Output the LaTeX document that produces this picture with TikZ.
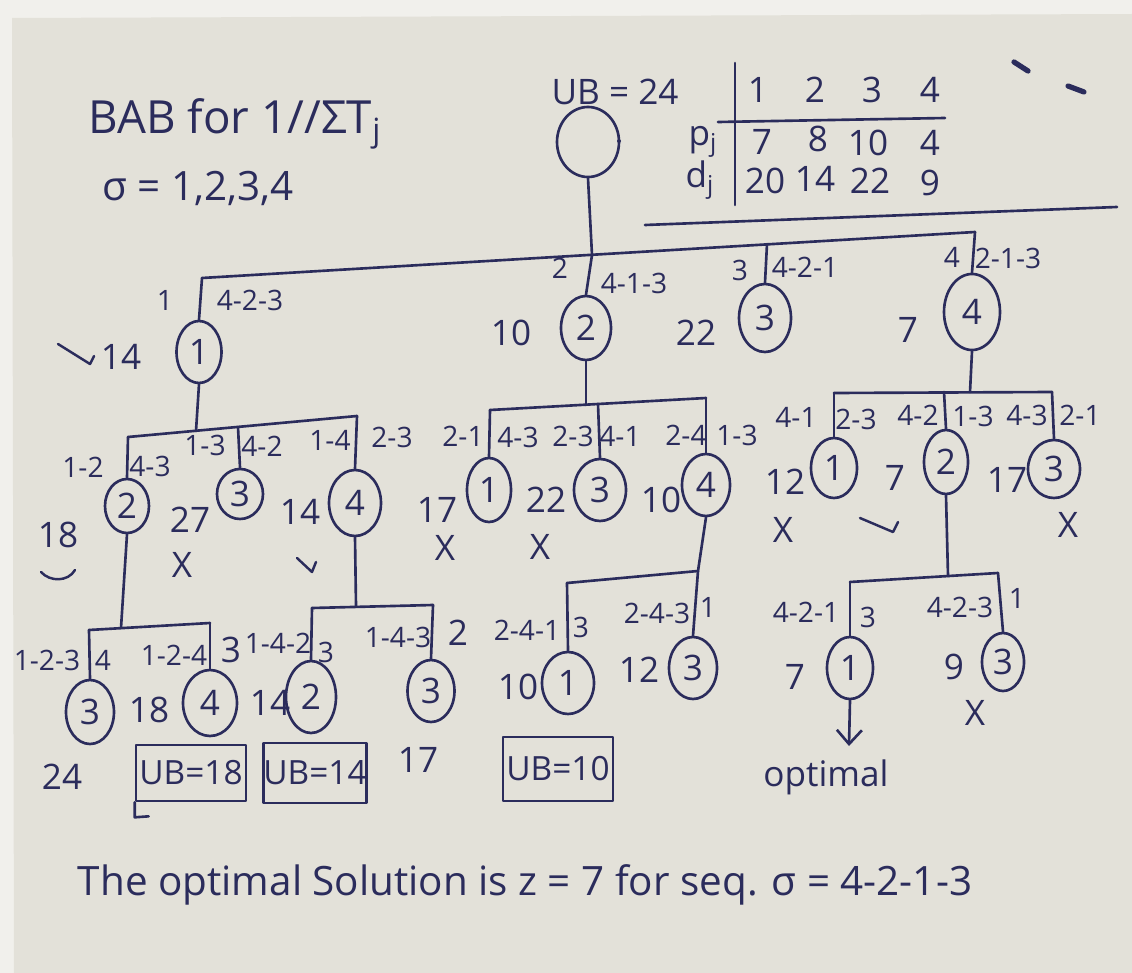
\documentclass[tikz,border=0pt]{standalone}
\usepackage{fontspec}
\setmainfont{Open Sans}
\usetikzlibrary{shapes.geometric,arrows.meta}
\definecolor{ink}{HTML}{2B2C5C}
\definecolor{paper}{HTML}{E3E1D9}
\definecolor{rim}{HTML}{F1F0EC}
\definecolor{pin}{HTML}{6A6862}
\begin{document}
\begin{tikzpicture}[x=0.02cm,y=-0.02cm,
  color=ink, line width=1.5pt, line cap=round, line join=round,
  nd/.style 2 args={ellipse, draw=ink, text=ink, inner sep=0pt,
     minimum width=#1*0.02cm, minimum height=#2*0.02cm,
     font=\fontsize{20}{24}\selectfont},
  lab/.style={text=ink, inner sep=0pt, font=\fontsize{16}{19}\selectfont},
  val/.style={text=ink, inner sep=0pt, font=\fontsize{20}{24}\selectfont},
  big/.style={text=ink, inner sep=0pt, font=\fontsize{23}{27}\selectfont},
  ttl/.style={text=ink, inner sep=0pt, font=\fontsize{26}{30}\selectfont},
  ubbox/.style 2 args={draw=ink, text=ink, inner sep=0pt,
     minimum width=#1*0.02cm, minimum height=#2*0.02cm,
     font=\fontsize{19}{22}\selectfont},
  tickmark/.style={line width=1.4pt},
  optarrow/.style={-{Straight Barb[length=0.28cm,width=0.5cm]}}
]
% background
\useasboundingbox (0,0) rectangle (1132,973);
\fill[rim] (0,0) rectangle (1132,973);
\fill[paper] (12,18) -- (1132,14) -- (1132,973) -- (14,973) -- cycle;
% pins
\draw[pin, line width=3pt] (1014,62) -- (1028,71);
\draw[pin, line width=3pt] (1068,86) -- (1084,92);

% title
\node[ttl] (title) at (235,124) {BAB for 1//ΣT\textsubscript{j}};
\node[big] (sigma) at (198,188) {σ = 1,2,3,4};

% table
\node[val] (ub) at (615,92) {UB = 24};
\coordinate (tv1) at (735,63); \coordinate (tv2) at (735,205);
\coordinate (th1) at (718,122); \coordinate (th2) at (945,118);
\coordinate (tl1) at (645,225); \coordinate (tl2) at (1117,207);
\draw (tv1) -- (tv2); \draw (th1) -- (th2); \draw (tl1) -- (tl2);
\node[val] (h1) at (758,90) {1};
\node[val] (h2) at (815,90) {2};
\node[val] (h3) at (872,90) {3};
\node[val] (h4) at (930,90) {4};
\node[val] (pj) at (703,142) {p\textsubscript{j}};
\node[val] (dj) at (700,180) {d\textsubscript{j}};
\node[val] (p1) at (762,142) {7};
\node[val] (p2) at (818,139) {8};
\node[val] (p3) at (868,143) {10};
\node[val] (p4) at (930,143) {4};
\node[val] (d1) at (765,181) {20};
\node[val] (d2) at (815,179) {14};
\node[val] (d3) at (870,181) {22};
\node[val] (d4) at (930,183) {9};

% root
\node[nd={62}{70}] (R) at (588,142) {};
\fill[ink] (619,141) circle (2);

% level 1
\node[nd={45}{62}] (N1) at (199,352) {1};
\node[nd={50}{64}] (N2) at (586,328) {2};
\node[nd={52}{68}] (N3) at (765,318) {3};
\node[nd={56}{76}] (N4) at (972,312) {4};
\coordinate (b0l) at (202,278); \coordinate (b0a) at (592,255);
\coordinate (b0b) at (767,244); \coordinate (b0r) at (975,232);
\draw (R.south) -- (b0a);
\draw (b0l) -- (b0r);
\draw (b0l) -- (N1.north);
\draw (b0a) -- (N2.north);
\draw (b0b) -- (N3.north);
\draw (b0r) -- (N4.north);
\node[lab] at (165,300) {1};
\node[lab] at (250,300) {4-2-3};
\node[val] at (121,357) {14};
\draw[tickmark] (58,344) -- (90,364) -- (94,356);
\node[lab] at (560,268) {2};
\node[lab] at (634,283) {4-1-3};
\node[val] at (511,333) {10};
\node[lab] at (740,270) {3};
\node[lab] at (805,267) {4-2-1};
\node[val] at (696,333) {22};
\node[lab] at (952,257) {4};
\node[lab] at (1008,258) {2-1-3};
\node[val] at (908,330) {7};

% level 2 under N1
\node[nd={44}{54}] (A2) at (127,506) {2};
\node[nd={46}{50}] (A3) at (240,494) {3};
\node[nd={52}{66}] (A4) at (355,503) {4};
\coordinate (c1l) at (128,437); \coordinate (c1j) at (196,431);
\coordinate (c1m) at (238,427); \coordinate (c1r) at (357,416);
\draw (N1.south) -- (c1j);
\draw (c1l) -- (c1r);
\draw (c1l) -- (A2.north);
\draw (c1m) -- (A3.north);
\draw (c1r) -- (A4.north);
\node[lab] at (83,467) {1-2};
\node[lab] at (150,466) {4-3};
\node[lab] at (205,445) {1-3};
\node[lab] at (262,446) {4-2};
\node[lab] at (330,440) {1-4};
\node[lab] at (392,437) {2-3};
\node[val] at (58,535) {18};
\node[val] at (190,520) {27};
\node[val] at (300,512) {14};
\node[val] at (182,565) {X};
\draw[tickmark] (41,572) .. controls (50,582) and (68,582) .. (75,570);
\draw[tickmark] (297,558) -- (312,572) -- (316,562);

% level 2 under N2
\node[nd={44}{64}] (B1) at (489,490) {1};
\node[nd={52}{62}] (B3) at (600,490) {3};
\node[nd={48}{62}] (B4) at (706,485) {4};
\coordinate (c2l) at (490,410); \coordinate (c2j) at (586,405);
\coordinate (c2m) at (598,404); \coordinate (c2r) at (706,398);
\draw (N2.south) -- (c2j);
\draw (c2l) -- (c2r);
\draw (c2l) -- (B1.north);
\draw (c2m) -- (B3.north);
\draw (c2r) -- (B4.north);
\node[lab] at (463,436) {2-1};
\node[lab] at (518,437) {4-3};
\node[lab] at (573,436) {2-3};
\node[lab] at (620,436) {4-1};
\node[lab] at (686,435) {2-4};
\node[lab] at (737,435) {1-3};
\node[val] at (437,510) {17};
\node[val] at (445,548) {X};
\node[val] at (546,500) {22};
\node[val] at (540,547) {X};
\node[val] at (661,500) {10};

% level 2 under N4
\node[nd={46}{60}] (C1) at (834,468) {1};
\node[nd={44}{64}] (C2) at (946,462) {2};
\node[nd={52}{58}] (C3) at (1054,469) {3};
\coordinate (c3l) at (834,393); \coordinate (c3j) at (970,392);
\coordinate (c3m) at (944,392); \coordinate (c3r) at (1052,392);
\draw (N4.south) -- (c3j);
\draw (c3l) -- (c3r);
\draw (c3l) -- (C1.north);
\draw (c3m) -- (C2.north);
\draw (c3r) -- (C3.north);
\node[lab] at (796,417) {4-1};
\node[lab] at (856,419) {2-3};
\node[lab] at (918,415) {4-2};
\node[lab] at (973,416) {1-3};
\node[lab] at (1027,415) {4-3};
\node[lab] at (1080,415) {2-1};
\node[val] at (785,482) {12};
\node[val] at (783,530) {X};
\node[val] at (895,478) {7};
\draw[tickmark] (860,518) -- (893,532) -- (898,522);
\node[val] at (1007,480) {17};
\node[val] at (1068,525) {X};

% level 3 under A2
\node[nd={48}{64}] (D3) at (90,712) {3};
\node[nd={54}{66}] (D4) at (210,703) {4};
\coordinate (d1l) at (89,630); \coordinate (d1j) at (121,628);
\coordinate (d1r) at (210,623);
\draw (A2.south) -- (d1j);
\draw (d1l) -- (d1r);
\draw (d1l) -- (D3.north);
\draw (d1r) -- (D4.north);
\node[lab] at (47,660) {1-2-3};
\node[lab] at (103,660) {4};
\node[lab] at (174,655) {1-2-4};
\node[val] at (231,650) {3};
\node[val] at (62,777) {24};
\node[val] at (149,710) {18};
\node[ubbox={110}{56}] (ub18) at (191,773) {UB=18};
\draw (ub18.south west) -- ++(0,15) -- ++(14,-1);

% level 3 under A4
\node[nd={50}{72}] (E2) at (311,697) {2};
\node[nd={47}{62}] (E3) at (431,691) {3};
\coordinate (e1l) at (312,608); \coordinate (e1j) at (356,606);
\coordinate (e1r) at (433,605);
\draw (A4.south) -- (e1j);
\draw (e1l) -- (e1r);
\draw (e1l) -- (E2.north);
\draw (e1r) -- (E3.north);
\node[lab] at (278,643) {1-4-2};
\node[lab] at (326,652) {3};
\node[lab] at (398,637) {1-4-3};
\node[val] at (458,633) {2};
\node[val] at (270,703) {14};
\node[val] at (418,760) {17};
\node[ubbox={98}{60}] (ub14) at (315,773) {UB=14};

% level 3 under B4
\node[nd={52}{62}] (F1) at (568,683) {1};
\node[nd={48}{62}] (F3) at (693,668) {3};
\coordinate (f1l) at (567,583); \coordinate (f1r) at (698,571);
\draw (B4.south) -- (f1r);
\draw (f1l) -- (f1r);
\draw (f1l) -- (F1.north);
\draw (f1r) -- (F3.north);
\node[lab] at (527,630) {2-4-1};
\node[lab] at (581,627) {3};
\node[lab] at (657,613) {2-4-3};
\node[lab] at (708,607) {1};
\node[val] at (518,687) {10};
\node[val] at (639,670) {12};
\node[ubbox={110}{64}] (ub10) at (558,769) {UB=10};

% level 3 under C2
\node[nd={46}{62}] (G1) at (850,668) {1};
\node[nd={42}{58}] (G3) at (1003,662) {3};
\coordinate (g1l) at (850,582); \coordinate (g1j) at (948,576);
\coordinate (g1r) at (998,573);
\draw (C2.south) -- (g1j);
\draw (g1l) -- (g1r);
\draw (g1l) -- (G1.north);
\draw (g1r) -- (G3.north);
\node[lab] at (806,612) {4-2-1};
\node[lab] at (868,617) {3};
\node[lab] at (960,607) {4-2-3};
\node[lab] at (1017,598) {1};
\node[val] at (795,677) {7};
\node[val] at (954,667) {9};
\node[val] at (975,713) {X};
\coordinate (optc) at (849,746);
\draw[optarrow] (G1.south) -- (optc);
\node[val] (opt) at (826,777) {optimal};

% conclusion
\node[big] (concl) at (525,885) {The optimal Solution is z = 7 for seq. σ = 4-2-1-3};
\end{tikzpicture}
\end{document}
